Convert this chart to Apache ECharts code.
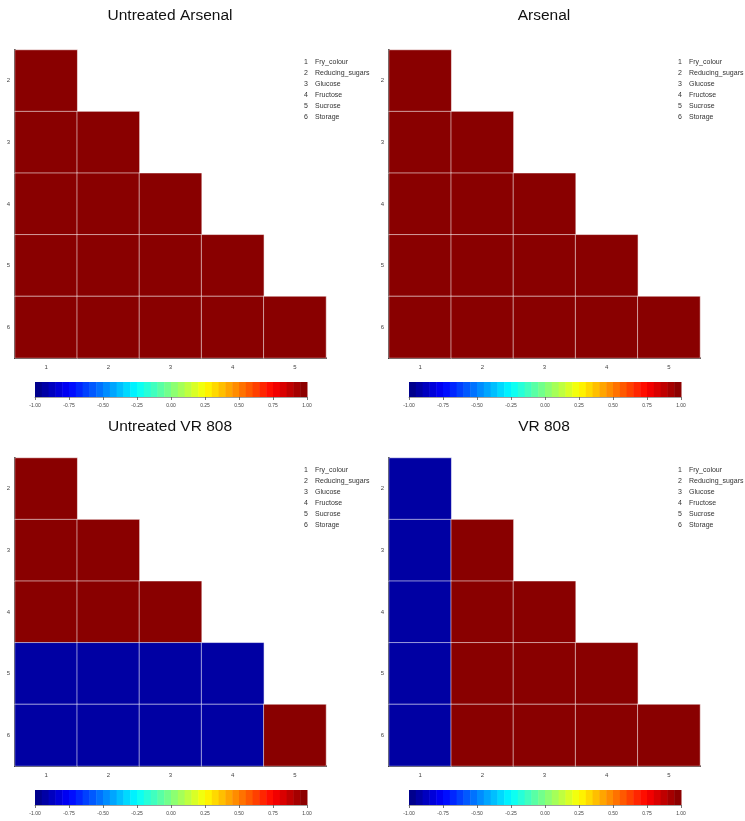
<!DOCTYPE html>
<html><head><meta charset="utf-8">
<script src="https://cdn.jsdelivr.net/npm/echarts@6/dist/echarts.min.js"></script>
<style>html,body{margin:0;padding:0;background:#fff}#c{width:745px;height:821px}</style>
</head><body><div id="c"></div>
<script>
var xCats = ['1','2','3','4','5'];
var yCats = ['2','3','4','5','6'];
var varNames = ['Fry_colour','Reducing_sugars','Glucose','Fructose','Sucrose','Storage'];
var panelTitles = ['Untreated Arsenal','Arsenal','Untreated VR 808','VR 808'];
// lower-triangle correlation values, rows = variables 2..6, columns = variables 1..(row-1)
var untreatedArsenal = [[0.98],[0.98,0.98],[0.98,0.98,0.98],[0.98,0.98,0.98,0.98],[0.98,0.98,0.98,0.98,0.98]];
var arsenal = [[0.98],[0.98,0.98],[0.98,0.98,0.98],[0.98,0.98,0.98,0.98],[0.98,0.98,0.98,0.98,0.98]];
var untreatedVR808 = [[0.98],[0.98,0.98],[0.98,0.98,0.98],[-0.93,-0.93,-0.93,-0.93],[-0.93,-0.93,-0.93,-0.93,0.98]];
var vr808 = [[-0.93],[-0.93,0.98],[-0.93,0.98,0.98],[-0.93,0.98,0.98,0.98],[-0.93,0.98,0.98,0.98,0.98]];
var colorbarBins = [-0.975,-0.925,-0.875,-0.825,-0.775,-0.725,-0.675,-0.625,-0.575,-0.525,
  -0.475,-0.425,-0.375,-0.325,-0.275,-0.225,-0.175,-0.125,-0.075,-0.025,
  0.025,0.075,0.125,0.175,0.225,0.275,0.325,0.375,0.425,0.475,
  0.525,0.575,0.625,0.675,0.725,0.775,0.825,0.875,0.925,0.975];
var colorbarTicks = [-1,-0.75,-0.5,-0.25,0,0.25,0.5,0.75,1];

var panelData = [untreatedArsenal, arsenal, untreatedVR808, vr808];
var offX = [0, 374, 0, 374];
var offY = [0, 0, 408, 408];
var titleY = [16, 16, 427, 427];
var jet = ['#00007F','#0000FF','#007FFF','#00FFFF','#7FFF7F','#FFFF00','#FF7F00','#FF0000','#7F0000'];

var grids = [], xAxes = [], yAxes = [], series = [], graphics = [];
for (var p = 0; p < 4; p++) {
  var ox = offX[p], oy = offY[p];
  graphics.push({type: 'text', x: ox + 170, y: titleY[p],
    style: {text: panelTitles[p], align: 'center', verticalAlign: 'middle',
      font: '15.5px "Liberation Sans"', fill: '#111'}});
  // heatmap grid
  grids.push({left: ox + 15, top: oy + 50, width: 311, height: 308});
  var gi = grids.length - 1;
  xAxes.push({type: 'category', gridIndex: gi, data: xCats,
    axisLine: {lineStyle: {color: '#000', width: 2}},
    axisTick: {alignWithLabel: true, length: 3, lineStyle: {color: '#000', width: 1.5}},
    axisLabel: {fontSize: 6, color: '#444', margin: 6, fontFamily: 'Liberation Sans'},
    splitLine: {show: false}});
  yAxes.push({type: 'category', gridIndex: gi, data: yCats, inverse: true,
    axisLine: {lineStyle: {color: '#000', width: 2}},
    axisTick: {alignWithLabel: true, length: 3, lineStyle: {color: '#000', width: 1.5}},
    axisLabel: {fontSize: 6, color: '#444', margin: 5, fontFamily: 'Liberation Sans'},
    splitLine: {show: false}});
  var d = [];
  var tab = panelData[p];
  for (var r = 0; r < tab.length; r++) {
    for (var c = 0; c < tab[r].length; c++) d.push([c, r, tab[r][c]]);
  }
  series.push({type: 'heatmap', xAxisIndex: xAxes.length - 1, yAxisIndex: yAxes.length - 1,
    data: d, itemStyle: {borderColor: 'rgba(255,255,255,0.55)', borderWidth: 1},
    emphasis: {disabled: true}, silent: true});
  // colorbar grid
  grids.push({left: ox + 35, top: oy + 382, width: 272, height: 15});
  var cg = grids.length - 1;
  xAxes.push({type: 'value', gridIndex: cg, min: -1, max: 1, interval: 0.25,
    axisLine: {show: true, lineStyle: {color: '#888', width: 0.8}},
    axisTick: {show: true, length: 3, lineStyle: {color: '#555', width: 0.8}},
    axisLabel: {fontSize: 5, color: '#444', margin: 6, fontFamily: 'Liberation Sans',
      formatter: function (v) { return v.toFixed(2); }},
    splitLine: {show: false}});
  yAxes.push({type: 'value', gridIndex: cg, min: 0, max: 1, show: false});
  series.push({type: 'custom', xAxisIndex: xAxes.length - 1, yAxisIndex: yAxes.length - 1,
    data: colorbarBins.map(function (v) { return [v]; }), silent: true,
    renderItem: function (params, api) {
      var v = api.value(0);
      var a = api.coord([v - 0.025, 1]);
      var b = api.coord([v + 0.025, 0]);
      return {type: 'rect', shape: {x: a[0], y: a[1], width: b[0] - a[0] + 0.5, height: b[1] - a[1]},
        style: {fill: api.visual('color')}};
    }});
  // variable key
  for (var k = 0; k < varNames.length; k++) {
    graphics.push({type: 'text', left: ox + 304, top: oy + 59 + k * 11,
      style: {text: String(k + 1), fontSize: 7, fill: '#333', fontFamily: 'Liberation Sans'}});
    graphics.push({type: 'text', left: ox + 315, top: oy + 59 + k * 11,
      style: {text: varNames[k], fontSize: 7, fill: '#333', fontFamily: 'Liberation Sans'}});
  }
}

var chart = echarts.init(document.getElementById('c'), null, {renderer: 'canvas'});
chart.setOption({
  backgroundColor: '#fff',
  animation: false,
  grid: grids,
  xAxis: xAxes,
  yAxis: yAxes,
  visualMap: [
    {type: 'continuous', show: false, min: -1, max: 1, dimension: 2,
      seriesIndex: [0, 2, 4, 6], inRange: {color: jet}},
    {type: 'continuous', show: false, min: -1, max: 1, dimension: 0,
      seriesIndex: [1, 3, 5, 7], inRange: {color: jet}}
  ],
  series: series,
  graphic: graphics
});
</script>
</body></html>
